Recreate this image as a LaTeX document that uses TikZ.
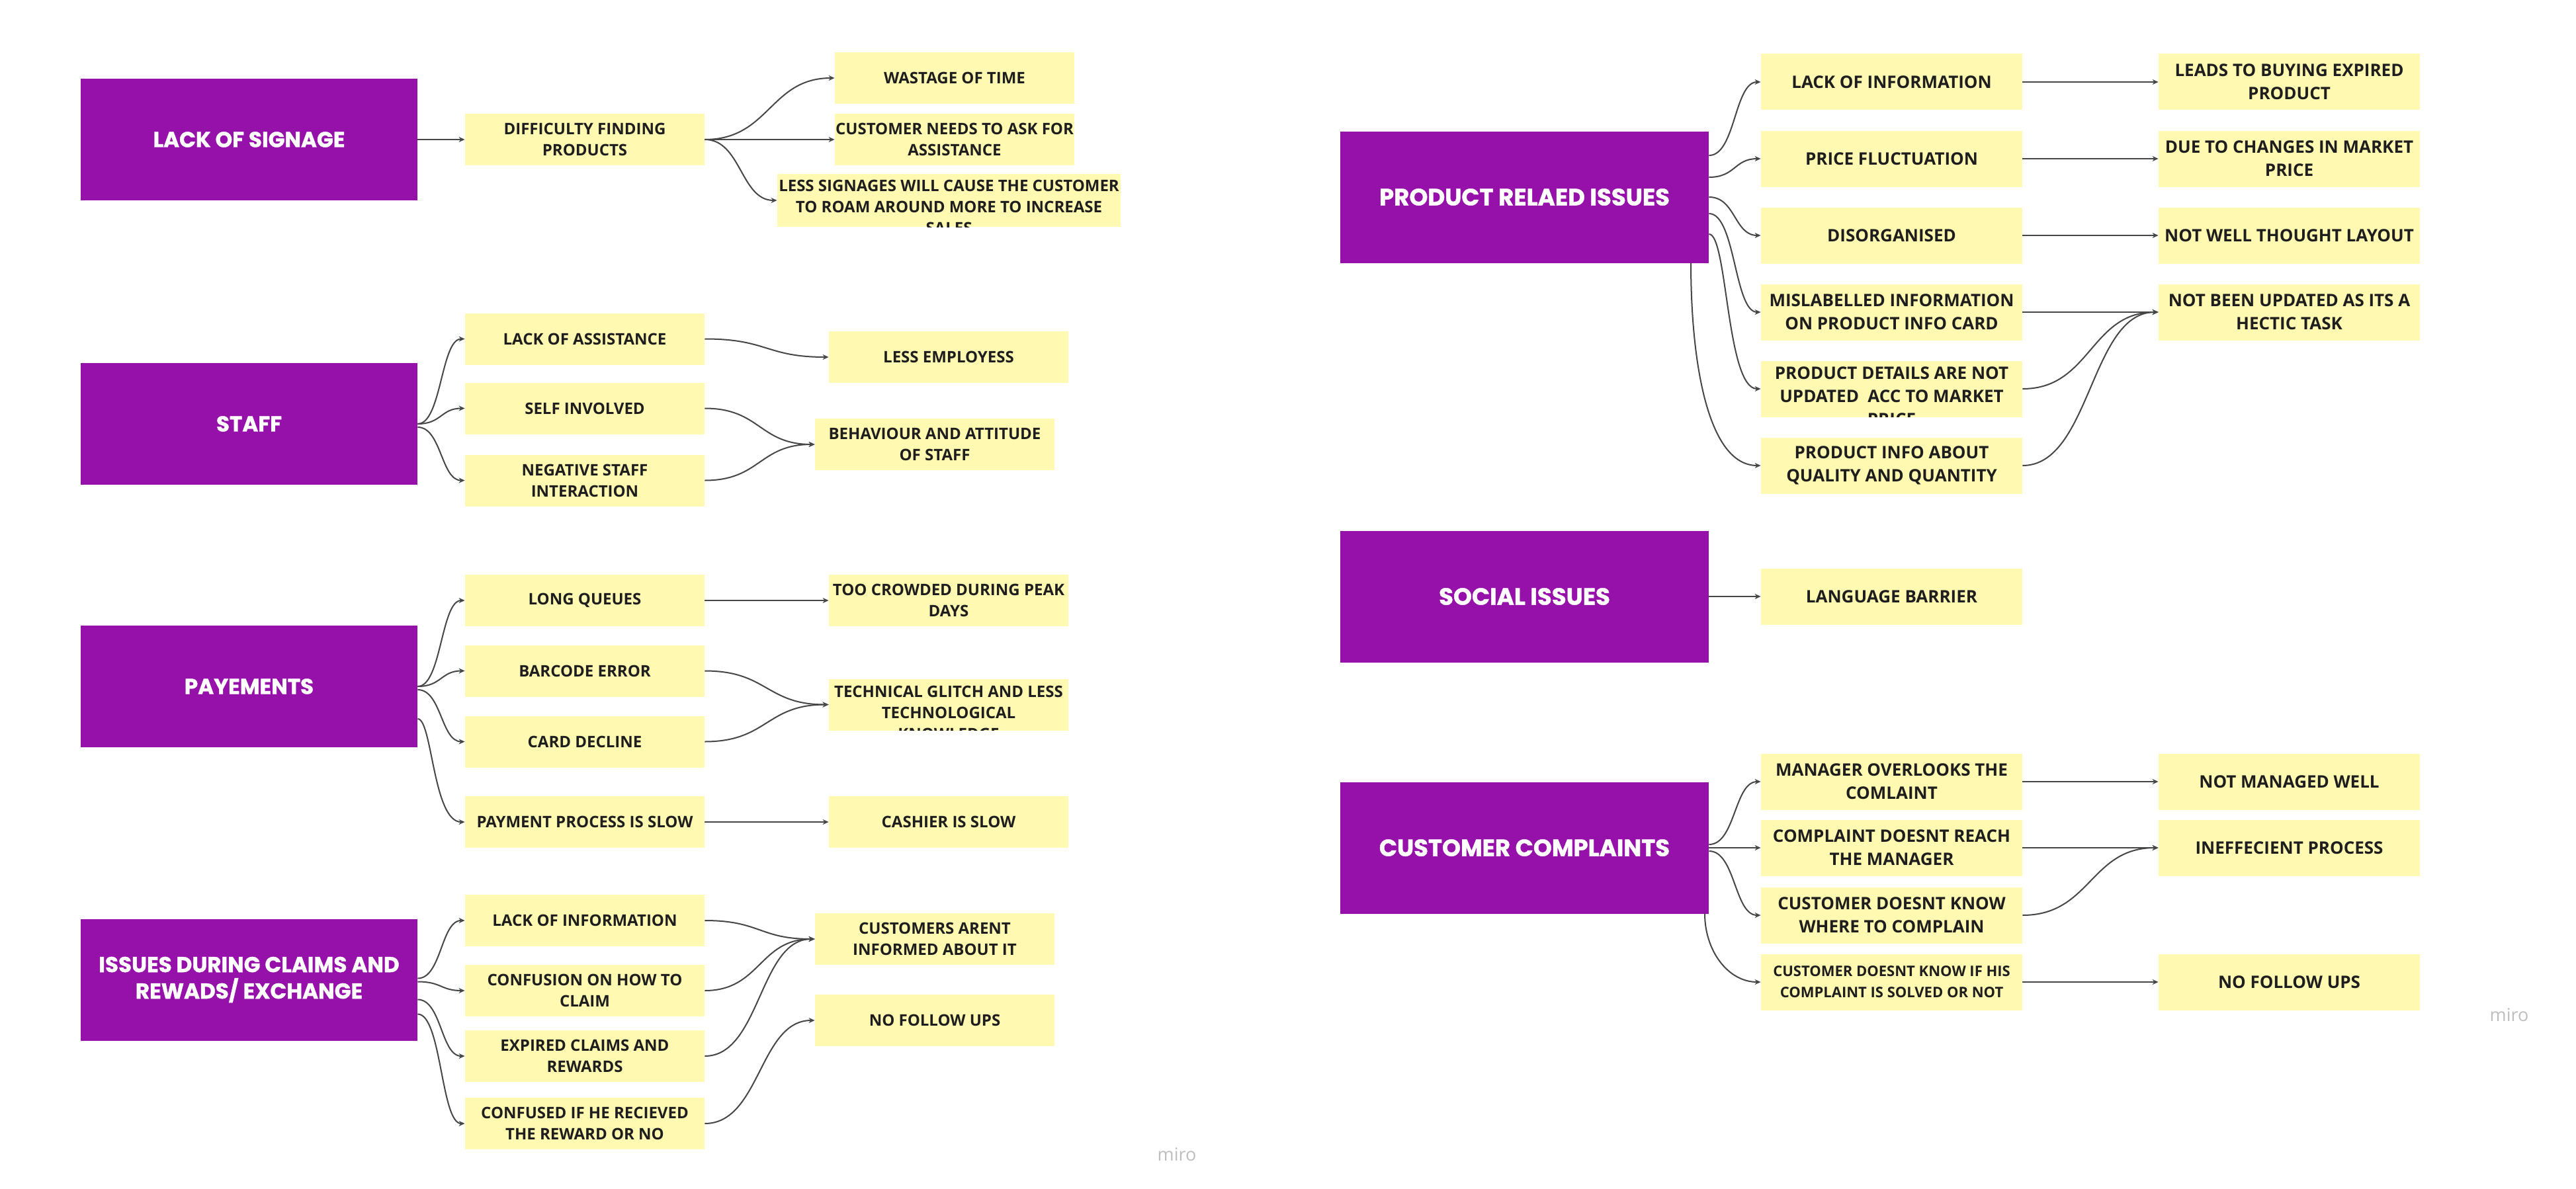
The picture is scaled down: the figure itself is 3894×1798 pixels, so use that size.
\documentclass[tikz,border=0pt]{standalone}
\usepackage{fontspec}
\newfontfamily\yfont{Open Sans}
\newfontfamily\pfont{Poppins}[BoldFeatures={FakeBold=1.2}]
\usetikzlibrary{arrows.meta,calc}
\definecolor{purp}{RGB}{150,17,170}
\definecolor{yel}{RGB}{255,249,177}
\definecolor{ink}{RGB}{30,30,30}
\definecolor{wire}{RGB}{70,70,70}
\definecolor{wm}{RGB}{190,190,190}
\begin{document}
\begin{tikzpicture}[x=0.5pt,y=-0.5pt,
 pbox/.style={fill=purp,text=white,font=\pfont\bfseries\fontsize{16.3}{20}\selectfont,align=center,minimum width=254.5pt,minimum height=92pt,inner sep=0pt},
 rpbox/.style={pbox,font=\pfont\bfseries\fontsize{17.8}{22}\selectfont,minimum width=278.5pt,minimum height=99.5pt},
 ybox/.style={fill=yel,text=ink,font=\yfont\bfseries\fontsize{12}{16}\selectfont,align=center,minimum width=181pt,minimum height=39pt,inner sep=0pt},
 rybox/.style={ybox,font=\yfont\bfseries\fontsize{13}{17.5}\selectfont,minimum width=197.5pt,minimum height=42.5pt},
 conn/.style={draw=wire,line width=1pt,-{Stealth[length=4.5pt,width=4pt]}},
 wmark/.style={font=\yfont\fontsize{13.5}{16}\selectfont,text=wm,inner sep=0pt}]
\path[use as bounding box,fill=white] (0,0) rectangle (3894,1798);

% ---------------- left half ----------------
\node[pbox] (P1) at (376.5,211) {LACK OF SIGNAGE};
\node[pbox] (P2) at (376.5,641) {STAFF};
\node[pbox] (P3) at (376.5,1038) {PAYEMENTS};
\node[pbox] (P4) at (376.5,1481.5) {ISSUES DURING CLAIMS AND\\REWADS/ EXCHANGE};

\node[ybox] (diff) at (884,211) {DIFFICULTY FINDING\\PRODUCTS};
\node[ybox] (wast) at (1443,118) {WASTAGE OF TIME};
\node[ybox] (need) at (1443,211) {CUSTOMER NEEDS TO ASK FOR\\ASSISTANCE};
\node[ybox,minimum width=259.5pt,minimum height=40pt] (less) at (1434.5,303) {};
\begin{scope}
\clip (less.south west) rectangle (less.north east);
\node[ybox,fill=none,minimum height=0pt] (lesstext) at (1434.5,313) {LESS SIGNAGES WILL CAUSE THE CUSTOMER\\TO ROAM AROUND MORE TO INCREASE\\SALES};
\end{scope}

\node[ybox] (la) at (884,512.5) {LACK OF ASSISTANCE};
\node[ybox] (self) at (884,617.5) {SELF INVOLVED};
\node[ybox] (neg) at (884,726.5) {NEGATIVE STAFF\\INTERACTION};
\node[ybox] (le) at (1434,540) {LESS EMPLOYESS};
\node[ybox] (beh) at (1413,672) {BEHAVIOUR AND ATTITUDE\\OF STAFF};

\node[ybox] (long) at (884,908) {LONG QUEUES};
\node[ybox] (bar) at (884,1014.5) {BARCODE ERROR};
\node[ybox] (card) at (884,1121.5) {CARD DECLINE};
\node[ybox] (pay) at (884,1243) {PAYMENT PROCESS IS SLOW};
\node[ybox] (too) at (1434,908) {TOO CROWDED DURING PEAK\\DAYS};
\node[ybox] (tech) at (1434,1065.5) {};
\begin{scope}
\clip (tech.south west) rectangle (tech.north east);
\node[ybox,fill=none,minimum height=0pt] (techtext) at (1434,1078) {TECHNICAL GLITCH AND LESS\\TECHNOLOGICAL\\KNOWLEDGE};
\end{scope}
\node[ybox] (cash) at (1434,1243) {CASHIER IS SLOW};

\node[ybox] (linfo) at (884,1392) {LACK OF INFORMATION};
\node[ybox] (conf) at (884,1498) {CONFUSION ON HOW TO\\CLAIM};
\node[ybox] (exp) at (884,1597) {EXPIRED CLAIMS AND\\REWARDS};
\node[ybox] (confd) at (884,1699) {CONFUSED IF HE RECIEVED\\THE REWARD OR NO};
\node[ybox] (ca) at (1413,1420) {CUSTOMERS ARENT\\INFORMED ABOUT IT};
\node[ybox] (nf) at (1413,1543) {NO FOLLOW UPS};

% ---------------- right half ----------------
\node[rpbox] (PR) at (2304.5,298) {PRODUCT RELAED ISSUES};
\node[rpbox] (SO) at (2304.5,902) {SOCIAL ISSUES};
\node[rpbox] (CC) at (2304.5,1282) {CUSTOMER COMPLAINTS};

\node[rybox] (li) at (2859.5,124) {LACK OF INFORMATION};
\node[rybox] (pf) at (2859.5,240) {PRICE FLUCTUATION};
\node[rybox] (dis) at (2859.5,356) {DISORGANISED};
\node[rybox] (mis) at (2859.5,472) {MISLABELLED INFORMATION\\ON PRODUCT INFO CARD};
\node[rybox] (pd) at (2859.5,588) {};
\begin{scope}
\clip (pd.south west) rectangle (pd.north east);
\node[rybox,fill=none,minimum height=0pt] (pdtext) at (2859.5,599) {PRODUCT DETAILS ARE NOT\\UPDATED\ \ ACC TO MARKET\\PRICE};
\end{scope}
\node[rybox] (pia) at (2859.5,704) {PRODUCT INFO ABOUT\\QUALITY AND QUANTITY};

\node[rybox] (leads) at (3460.5,124) {LEADS TO BUYING EXPIRED\\PRODUCT};
\node[rybox] (due) at (3460.5,240) {DUE TO CHANGES IN MARKET\\PRICE};
\node[rybox] (nw) at (3460.5,356) {NOT WELL THOUGHT LAYOUT};
\node[rybox] (nb) at (3460.5,472) {NOT BEEN UPDATED AS ITS A\\HECTIC TASK};

\node[rybox] (lang) at (2859.5,902) {LANGUAGE BARRIER};

\node[rybox] (man) at (2859.5,1182) {MANAGER OVERLOOKS THE\\COMLAINT};
\node[rybox] (comp) at (2859.5,1282) {COMPLAINT DOESNT REACH\\THE MANAGER};
\node[rybox] (cdk) at (2859.5,1384) {CUSTOMER DOESNT KNOW\\WHERE TO COMPLAIN};
\node[rybox,font=\yfont\bfseries\fontsize{11}{16}\selectfont] (cif) at (2859.5,1485) {CUSTOMER DOESNT KNOW IF HIS\\COMPLAINT IS SOLVED OR NOT};
\node[rybox] (nm) at (3460.5,1182) {NOT MANAGED WELL};
\node[rybox] (ineff) at (3460.5,1282) {INEFFECIENT PROCESS};
\node[rybox] (nfu) at (3460.5,1485) {NO FOLLOW UPS};

\node[wmark] (wm1) at (1779,1746) {miro};
\node[wmark] (wm2) at (3793,1535) {miro};

% ---------------- connectors ----------------
\draw[conn] (P1.east) -- (diff.west);
\draw[conn] (diff.east) .. controls +(98,0) and +(-98,0) .. (wast.west);
\draw[conn] (diff.east) -- (need.west);
\draw[conn] (diff.east) .. controls +(55,0) and +(-55,0) .. (less.west);

\draw[conn] (P2.east) .. controls +(36,0) and +(-36,0) .. (la.west);
\draw[conn] (P2.east) .. controls +(36,0) and +(-36,0) .. (self.west);
\draw[conn] ($(P2.east)+(0,5)$) .. controls +(36,0) and +(-36,0) .. (neg.west);
\draw[conn] (la.east) .. controls +(95,0) and +(-95,0) .. (le.west);
\draw[conn] (self.east) .. controls +(84,0) and +(-84,0) .. (beh.west);
\draw[conn] (neg.east) .. controls +(84,0) and +(-84,0) .. (beh.west);

\draw[conn] (P3.east) .. controls +(36,0) and +(-36,0) .. (long.west);
\draw[conn] (P3.east) .. controls +(36,0) and +(-36,0) .. (bar.west);
\draw[conn] ($(P3.east)+(0,5)$) .. controls +(36,0) and +(-36,0) .. (card.west);
\draw[conn] ($(P3.east)+(0,49)$) .. controls +(22,0) and +(-48,0) .. (pay.west);
\draw[conn] (long.east) -- (too.west);
\draw[conn] (bar.east) .. controls +(95,0) and +(-95,0) .. (tech.west);
\draw[conn] (card.east) .. controls +(95,0) and +(-95,0) .. (tech.west);
\draw[conn] (pay.east) -- (cash.west);

\draw[conn] ($(P4.east)+(0,-2)$) .. controls +(36,0) and +(-36,0) .. (linfo.west);
\draw[conn] ($(P4.east)+(0,3)$) .. controls +(36,0) and +(-36,0) .. (conf.west);
\draw[conn] ($(P4.east)+(0,30)$) .. controls +(36,0) and +(-36,0) .. (exp.west);
\draw[conn] ($(P4.east)+(0,52)$) .. controls +(36,0) and +(-36,0) .. (confd.west);
\draw[conn] (linfo.east) .. controls +(84,0) and +(-84,0) .. (ca.west);
\draw[conn] (conf.east) .. controls +(84,0) and +(-84,0) .. (ca.west);
\draw[conn] (exp.east) .. controls +(84,0) and +(-84,0) .. (ca.west);
\draw[conn] (confd.east) .. controls +(84,0) and +(-84,0) .. (nf.west);

\draw[conn] ($(PR.east)+(0,-63)$) .. controls +(40,0) and +(-40,0) .. (li.west);
\draw[conn] ($(PR.east)+(0,-30)$) .. controls +(40,0) and +(-40,0) .. (pf.west);
\draw[conn] (PR.east) .. controls +(40,0) and +(-40,0) .. (dis.west);
\draw[conn] ($(PR.east)+(0,25)$) .. controls +(40,0) and +(-40,0) .. (mis.west);
\draw[conn] ($(PR.east)+(0,56)$) .. controls +(28,0) and +(-52,0) .. (pd.west);
\draw[conn] ($(PR.south)+(251.5,0)$) .. controls +(0,150) and +(-80,0) .. (pia.west);
\draw[conn] (li.east) -- (leads.west);
\draw[conn] (pf.east) -- (due.west);
\draw[conn] (dis.east) -- (nw.west);
\draw[conn] (mis.east) -- (nb.west);
\draw[conn] (pd.east) .. controls +(103,0) and +(-103,0) .. (nb.west);
\draw[conn] (pia.east) .. controls +(103,0) and +(-103,0) .. (nb.west);

\draw[conn] (SO.east) -- (lang.west);

\draw[conn] ($(CC.east)+(0,-5)$) .. controls +(40,0) and +(-40,0) .. (man.west);
\draw[conn] (CC.east) -- (comp.west);
\draw[conn] ($(CC.east)+(0,5)$) .. controls +(40,0) and +(-40,0) .. (cdk.west);
\draw[conn] ($(CC.south)+(272.5,0)$) .. controls +(0,55) and +(-50,0) .. (cif.west);
\draw[conn] (man.east) -- (nm.west);
\draw[conn] (comp.east) -- (ineff.west);
\draw[conn] (cdk.east) .. controls +(103,0) and +(-103,0) .. (ineff.west);
\draw[conn] (cif.east) -- (nfu.west);
\end{tikzpicture}
\end{document}
